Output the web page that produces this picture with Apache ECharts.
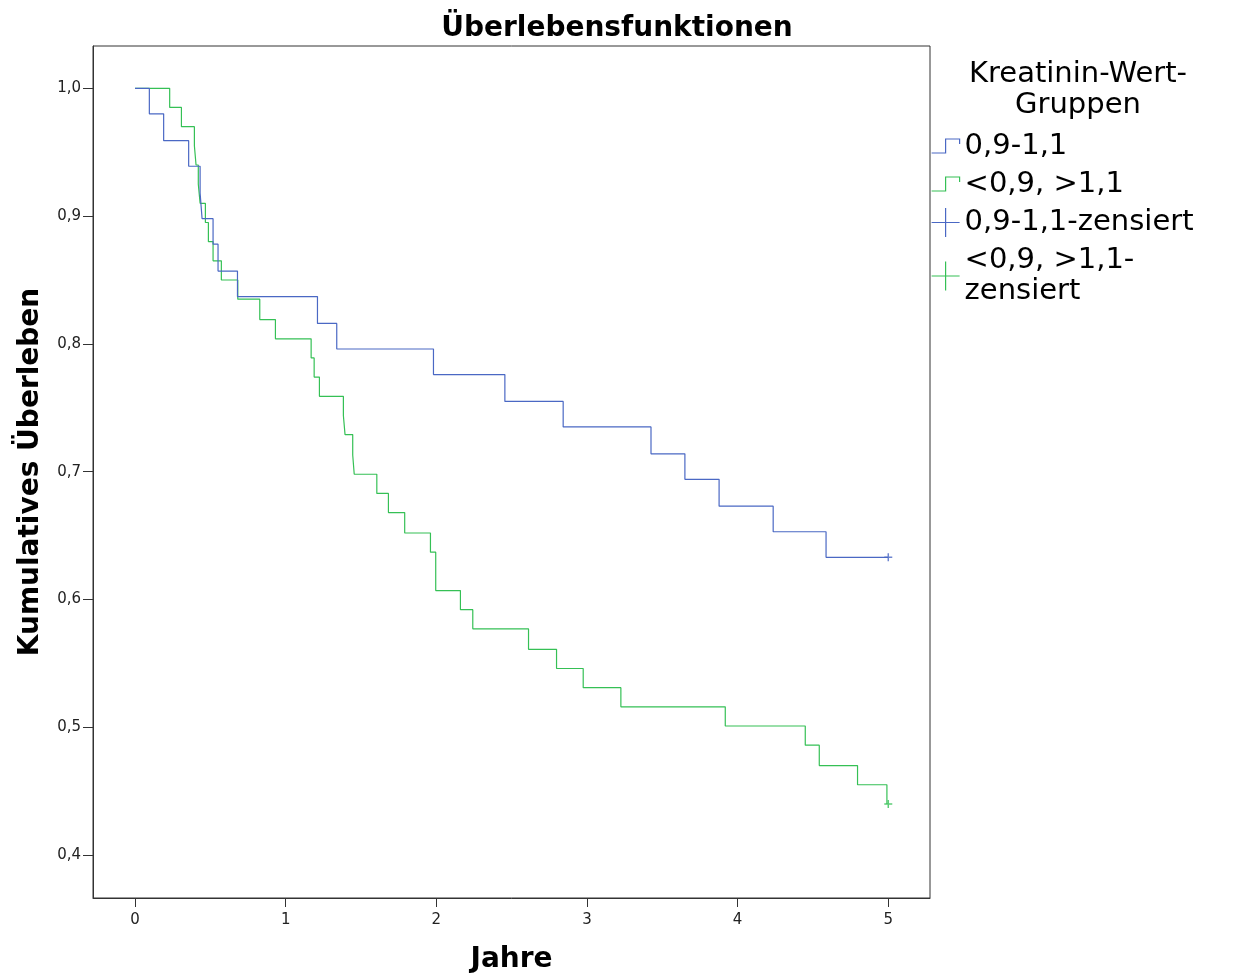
<!DOCTYPE html>
<html>
<head>
<meta charset="utf-8">
<title>Überlebensfunktionen</title>
<script src="https://cdn.jsdelivr.net/npm/echarts@6/dist/echarts.min.js"></script>
<style>
  html, body { margin: 0; padding: 0; background: #fff; overflow: hidden; }
  #chart { width: 1234px; height: 973px; }
</style>
</head>
<body>
<div id="chart"></div>
<script>
// Kaplan-Meier survival curves by creatinine group (time in years)
const groupNames = ['0,9-1,1', '<0,9, >1,1', '0,9-1,1-zensiert', '<0,9, >1,1-\nzensiert'];

const normalTimes = [0, 0.095, 0.19, 0.356, 0.432, 0.445, 0.518, 0.551, 0.68, 1.211, 1.339, 1.981, 2.455, 2.842, 3.425, 3.65, 3.877, 4.236, 4.587, 5.0];
const normalSurv  = [1.0, 0.980, 0.959, 0.939, 0.918, 0.898, 0.878, 0.857, 0.837, 0.816, 0.796, 0.776, 0.755, 0.735, 0.714, 0.694, 0.673, 0.653, 0.633, 0.633];

const abnormalTimes = [0, 0.23, 0.308, 0.394, 0.405, 0.42, 0.432, 0.467, 0.487, 0.518, 0.573, 0.682, 0.828, 0.932, 1.169, 1.189, 1.224, 1.383, 1.394, 1.445, 1.455, 1.605, 1.682, 1.79, 1.961, 1.996, 2.16, 2.242, 2.612, 2.798, 2.975, 3.225, 3.918, 4.449, 4.542, 4.796, 4.991];
const abnormalSurv  = [1.0, 0.985, 0.970, 0.955, 0.940, 0.925, 0.910, 0.895, 0.880, 0.865, 0.850, 0.835, 0.819, 0.804, 0.789, 0.774, 0.759, 0.744, 0.729, 0.713, 0.698, 0.683, 0.668, 0.652, 0.637, 0.607, 0.592, 0.577, 0.561, 0.546, 0.531, 0.516, 0.501, 0.486, 0.470, 0.455, 0.440];

// censored observations
const normalCensTimes = [5.0];
const normalCensSurv  = [0.633];
const abnormalCensTimes = [5.0];
const abnormalCensSurv  = [0.440];

const xTicks = [0, 1, 2, 3, 4, 5];
const yTicks = [0.4, 0.5, 0.6, 0.7, 0.8, 0.9, 1.0];

const BLUE = '#4a68c4';
const GREEN = '#35c055';
const AXIS = '#333';
const FONT = 'DejaVu Sans';
// legend glyphs share a 28x29 box (leading moves fix the bounding box)
const STEP_ICON = 'path://M0,0M28,29M0,21L14,21L14,7L28,7L28,12';
const PLUS_ICON = 'path://M0,0M28,29M0,14.5L28,14.5M14,0L14,29';
const PLUS_MARK = 'path://M0,4L8,4M4,0L4,8';

const zip = (a, b) => a.map((v, i) => [v, b[i]]);
const hollow = c => ({ color: 'transparent', borderColor: c, borderWidth: 1.2, opacity: 1 });

const chart = echarts.init(document.getElementById('chart'), null, { renderer: 'canvas' });

chart.setOption({
  backgroundColor: '#fff',
  animation: false,
  title: [
    {
      text: 'Überlebensfunktionen',
      left: 'center',
      top: 15,
      padding: 0,
      textStyle: { fontFamily: FONT, fontSize: 28, fontWeight: 'bold', color: '#000' }
    },
    {
      text: 'Kreatinin-Wert-\nGruppen',
      left: 1078,
      textAlign: 'center',
      top: 59,
      padding: 0,
      textStyle: { fontFamily: FONT, fontSize: 29, fontWeight: 'normal', color: '#000', lineHeight: 31 }
    }
  ],
  legend: {
    orient: 'vertical',
    left: 931,
    top: 131,
    padding: 0,
    itemWidth: 28,
    itemHeight: 29,
    itemGap: 7,
    selectedMode: false,
    textStyle: { fontFamily: FONT, fontSize: 29, color: '#000', lineHeight: 31 },
    data: [
      { name: groupNames[0], icon: STEP_ICON, itemStyle: hollow(BLUE) },
      { name: groupNames[1], icon: STEP_ICON, itemStyle: hollow(GREEN) },
      { name: groupNames[2], icon: PLUS_ICON, itemStyle: hollow(BLUE) },
      { name: groupNames[3], icon: PLUS_ICON, itemStyle: hollow(GREEN) }
    ]
  },
  grid: {
    left: 93, top: 46, right: 304, bottom: 75,
    outerBoundsMode: 'none',
    show: true, borderColor: AXIS, borderWidth: 1, containLabel: false
  },
  xAxis: {
    type: 'value',
    min: -0.279, max: 5.277,
    name: 'Jahre',
    nameLocation: 'middle',
    nameGap: 48,
    nameTextStyle: { fontFamily: FONT, fontSize: 28, fontWeight: 'bold', color: '#000' },
    axisLine: { show: true, onZero: false, lineStyle: { color: AXIS, width: 1 } },
    axisTick: { show: true, length: 9, inside: false, customValues: xTicks, lineStyle: { color: AXIS } },
    axisLabel: {
      customValues: xTicks, margin: 15,
      fontFamily: FONT, fontSize: 15, color: '#222',
      formatter: v => String(v)
    },
    splitLine: { show: false }
  },
  yAxis: {
    type: 'value',
    min: 0.3664, max: 1.0331,
    name: 'Kumulatives Überleben',
    nameLocation: 'middle',
    nameGap: 48,
    nameRotate: 90,
    nameTextStyle: { fontFamily: FONT, fontSize: 28, fontWeight: 'bold', color: '#000' },
    axisLine: { show: true, onZero: false, lineStyle: { color: AXIS, width: 1 } },
    axisTick: { show: true, length: 10, inside: false, customValues: yTicks, lineStyle: { color: AXIS } },
    axisLabel: {
      customValues: yTicks, margin: 12,
      fontFamily: FONT, fontSize: 15, color: '#222',
      formatter: v => v.toFixed(1).replace('.', ',')
    },
    splitLine: { show: false }
  },
  series: [
    {
      name: groupNames[0],
      type: 'line',
      step: 'end',
      showSymbol: false,
      symbol: 'none',
      color: BLUE,
      lineStyle: { color: BLUE, width: 1.2 },
      data: zip(normalTimes, normalSurv),
      z: 3
    },
    {
      name: groupNames[1],
      type: 'line',
      step: 'end',
      showSymbol: false,
      symbol: 'none',
      color: GREEN,
      lineStyle: { color: GREEN, width: 1.2 },
      data: zip(abnormalTimes, abnormalSurv),
      z: 2
    },
    {
      name: groupNames[2],
      type: 'scatter',
      symbol: PLUS_MARK,
      symbolSize: 8,
      color: BLUE,
      itemStyle: { color: 'transparent', borderColor: BLUE, borderWidth: 1.5 },
      data: zip(normalCensTimes, normalCensSurv),
      z: 4
    },
    {
      name: groupNames[3],
      type: 'scatter',
      symbol: PLUS_MARK,
      symbolSize: 8,
      color: GREEN,
      itemStyle: { color: 'transparent', borderColor: GREEN, borderWidth: 1.5 },
      data: zip(abnormalCensTimes, abnormalCensSurv),
      z: 4
    }
  ]
});
</script>
</body>
</html>
